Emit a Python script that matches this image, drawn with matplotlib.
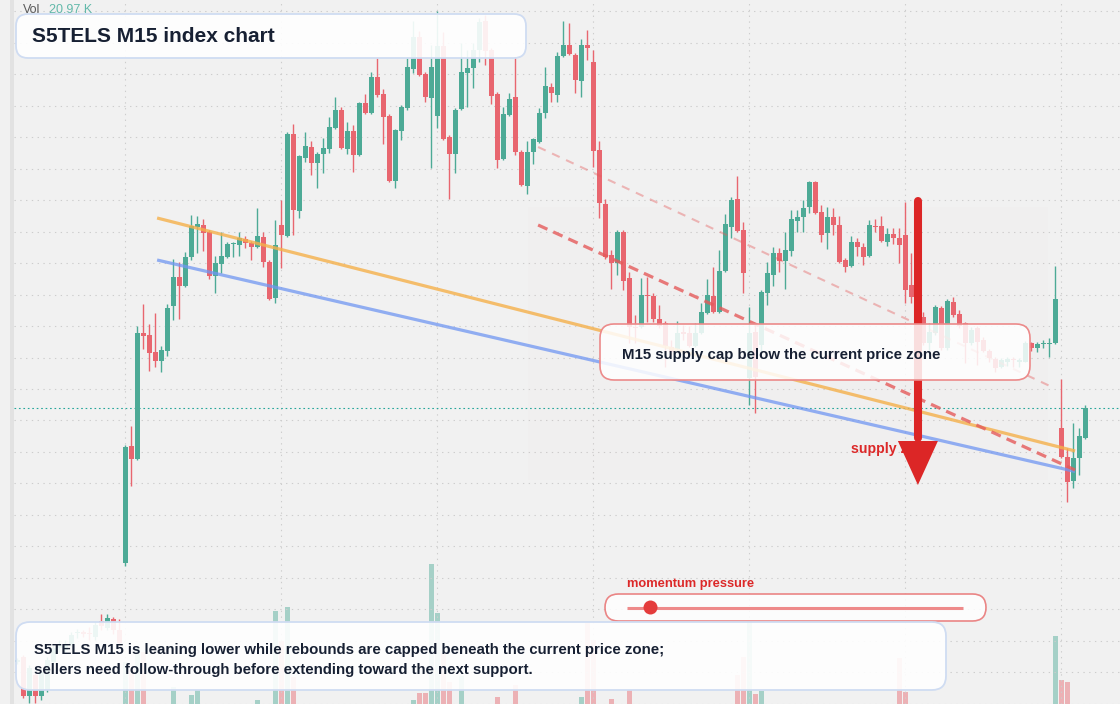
import matplotlib.pyplot as plt
import numpy as np
from matplotlib.patches import FancyBboxPatch, Rectangle, Circle
from matplotlib.lines import Line2D
from matplotlib.transforms import IdentityTransform

W, H = 1120, 704

# OHLC of the M15 candles (index points)
opens = [113.8, 114.3, 110.4, 112.5, 110.4, 111.0, 113.8, 115.2, 115.0, 115.6,
         116.7, 116.8, 116.7, 116.3, 117.9, 117.2, 118.1, 117.0, 123.7, 135.4,
         134.1, 146.7, 146.5, 144.8, 143.9, 144.9, 149.4, 152.3, 151.4, 154.3,
         157.3, 157.5, 156.8, 152.4, 153.6, 154.3, 155.6, 155.5, 156.1, 155.7,
         155.3, 156.3, 153.8, 150.2, 157.5, 156.4, 166.6, 158.9, 164.2, 165.3,
         163.7, 164.6, 165.1, 167.2, 169.0, 165.1, 166.9, 164.5, 169.7, 168.7,
         172.3, 170.6, 168.4, 161.9, 166.9, 169.2, 173.1, 176.3, 172.6, 170.2,
         168.4, 175.4, 166.3, 164.6, 169.1, 172.7, 173.2, 175.0, 177.9, 175.0,
         170.6, 164.1, 168.5, 170.3, 164.8, 161.4, 164.8, 165.8, 168.7, 171.3,
         170.5, 174.4, 175.5, 174.5, 171.9, 175.5, 173.8, 165.0, 159.6, 154.5,
         153.7, 156.8, 152.2, 147.3, 147.3, 150.5, 150.4, 148.1, 147.7, 145.3,
         145.1, 146.8, 146.7, 145.4, 146.7, 148.7, 150.4, 148.8, 152.9, 157.3,
         160.1, 157.0, 142.2, 146.8, 145.5, 150.7, 152.5, 154.7, 153.9, 154.9,
         157.9, 158.3, 159.3, 161.8, 158.8, 156.7, 158.3, 157.5, 154.0, 153.4,
         155.8, 155.3, 154.4, 157.4, 157.4, 155.8, 156.6, 156.2, 156.5, 151.5,
         150.3, 148.3, 145.7, 146.7, 149.2, 145.2, 149.8, 148.6, 147.7, 145.7,
         147.2, 146.0, 144.9, 144.1, 143.3, 143.8, 144.1, 143.8, 143.8, 145.7,
         145.2, 145.6, 145.6, 145.7, 137.2, 134.3, 131.9, 134.2, 136.2]
highs = [114.2, 114.5, 113.5, 112.8, 113.2, 114.3, 115.5, 116.0, 116.0, 116.8,
         117.1, 117.0, 117.3, 117.8, 118.6, 118.6, 118.3, 118.1, 135.5, 137.4,
         147.4, 149.6, 147.6, 148.7, 145.4, 149.6, 154.1, 153.8, 154.8, 158.5,
         158.4, 158.1, 157.0, 154.4, 156.8, 155.8, 155.8, 156.8, 156.4, 155.9,
         159.2, 156.8, 154.0, 158.0, 160.0, 166.8, 167.6, 164.5, 166.8, 165.9,
         164.8, 166.2, 168.3, 170.3, 169.3, 167.8, 167.5, 169.8, 170.6, 172.8,
         174.2, 171.1, 168.6, 167.1, 169.5, 174.2, 177.9, 176.9, 172.8, 175.5,
         178.9, 176.8, 166.5, 169.2, 175.7, 175.0, 175.7, 178.2, 178.5, 175.2,
         170.8, 169.3, 170.7, 174.2, 165.0, 165.9, 166.2, 169.2, 173.3, 171.7,
         174.8, 177.9, 177.7, 174.7, 176.1, 177.0, 175.0, 165.9, 160.1, 155.0,
         157.0, 157.0, 152.8, 148.5, 152.2, 152.3, 150.7, 149.5, 147.9, 146.0,
         147.9, 147.5, 147.4, 147.7, 149.7, 152.1, 153.3, 155.0, 158.6, 160.3,
         162.4, 157.8, 149.3, 147.5, 151.0, 153.8, 155.3, 155.2, 156.8, 159.0,
         159.0, 160.0, 161.9, 161.9, 159.5, 159.3, 159.2, 158.4, 154.2, 156.4,
         156.2, 155.7, 158.0, 158.1, 158.4, 157.2, 157.2, 157.2, 159.8, 154.7,
         150.7, 148.8, 147.7, 149.5, 149.4, 150.1, 150.3, 149.0, 147.8, 147.3,
         147.4, 146.3, 145.1, 144.3, 144.2, 144.3, 144.3, 144.2, 145.9, 145.8,
         145.8, 146.0, 146.2, 153.4, 142.1, 135.2, 137.7, 137.2, 139.5]
lows = [113.6, 110.2, 109.7, 109.7, 110.0, 110.8, 113.6, 114.8, 114.8, 115.4,
        116.2, 116.3, 116.0, 116.0, 117.0, 117.0, 116.6, 115.5, 123.4, 131.4,
        134.0, 145.1, 142.9, 143.3, 142.8, 144.4, 148.0, 148.1, 151.3, 154.0,
        154.7, 154.9, 152.1, 150.7, 152.7, 154.2, 154.3, 154.4, 155.2, 154.0,
        155.2, 153.3, 150.0, 149.7, 153.2, 156.3, 156.5, 158.2, 163.8, 162.5,
        161.2, 162.7, 164.7, 167.1, 165.1, 164.6, 162.8, 164.4, 168.6, 168.6,
        170.3, 165.6, 161.8, 161.2, 166.0, 169.0, 172.7, 172.4, 169.8, 163.2,
        167.2, 166.0, 160.1, 162.7, 169.0, 169.3, 171.2, 173.8, 173.5, 169.6,
        163.2, 164.0, 168.4, 164.5, 161.4, 160.6, 163.6, 165.7, 168.2, 169.8,
        169.8, 174.3, 174.5, 170.7, 170.3, 174.0, 163.3, 158.2, 154.1, 151.1,
        152.5, 151.0, 145.7, 145.7, 147.2, 147.8, 147.8, 147.2, 143.3, 144.5,
        144.9, 146.0, 145.3, 145.3, 146.6, 148.6, 148.7, 148.7, 152.8, 156.2,
        156.8, 150.7, 139.5, 138.7, 144.8, 149.5, 151.4, 152.8, 151.1, 154.4,
        156.8, 156.8, 158.7, 158.6, 155.8, 155.1, 156.5, 153.7, 152.8, 153.3,
        154.4, 153.5, 154.3, 156.8, 155.8, 155.4, 155.6, 153.7, 149.7, 149.7,
        147.8, 145.5, 145.0, 146.5, 145.0, 145.0, 148.3, 147.2, 143.7, 145.5,
        143.5, 144.8, 143.8, 142.8, 143.2, 143.4, 143.3, 143.3, 143.8, 144.9,
        144.8, 145.2, 144.3, 145.6, 134.2, 129.8, 131.2, 132.5, 136.1]
closes = [114.0, 110.4, 113.2, 110.4, 112.8, 114.0, 115.2, 115.5, 115.6, 116.5,
          116.8, 116.6, 116.6, 117.5, 117.4, 118.2, 117.0, 115.7, 135.3, 134.1,
          146.7, 146.4, 144.7, 143.9, 145.0, 149.2, 152.3, 151.4, 154.3, 157.4,
          157.6, 156.7, 152.4, 153.7, 154.4, 155.6, 155.7, 156.2, 155.7, 155.3,
          156.4, 153.8, 150.1, 155.5, 156.5, 166.6, 159.0, 164.4, 165.4, 163.7,
          164.6, 165.2, 167.3, 169.0, 165.2, 166.9, 164.5, 169.7, 168.7, 172.3,
          170.5, 168.3, 161.9, 167.0, 169.3, 173.3, 176.3, 172.5, 170.3, 173.3,
          175.4, 166.1, 164.6, 169.0, 172.8, 173.2, 175.0, 177.8, 174.9, 170.4,
          164.0, 168.6, 170.1, 164.8, 161.5, 164.8, 166.1, 168.7, 171.4, 170.7,
          174.4, 175.5, 174.6, 172.0, 175.5, 175.2, 164.9, 159.7, 154.3, 153.7,
          156.8, 151.9, 147.3, 147.2, 150.5, 150.4, 148.1, 147.4, 145.4, 144.8,
          146.7, 146.6, 145.4, 146.7, 148.8, 150.5, 148.8, 152.9, 157.6, 160.0,
          156.9, 152.7, 146.7, 142.3, 150.8, 152.7, 154.7, 153.9, 155.0, 158.1,
          158.3, 159.2, 161.8, 158.7, 156.5, 158.3, 157.5, 153.8, 153.3, 155.8,
          155.3, 154.3, 157.5, 157.3, 155.9, 156.6, 156.2, 155.5, 151.0, 150.3,
          148.2, 145.7, 146.8, 149.3, 145.2, 149.9, 148.5, 147.4, 145.7, 147.0,
          145.8, 144.9, 144.2, 143.2, 144.0, 144.1, 144.0, 144.0, 145.7, 145.2,
          145.6, 145.7, 145.7, 150.1, 134.3, 131.8, 134.2, 136.4, 139.2]
# volume in K
volumes = [0, 0, 0, 0, 0, 0, 0, 0, 0, 0,
           0, 0, 0, 0, 0, 0, 0, 0, 12.0, 9.7,
           16.0, 14.9, 0, 0, 0, 0, 4.9, 0, 0, 2.6,
           4.0, 0, 0, 0, 0, 0, 0, 0, 0, 0,
           1.1, 0, 0, 26.6, 18.0, 27.7, 7.7, 0, 0, 0,
           0, 0, 0, 0, 0, 0, 0, 0, 0, 0,
           0, 0, 0, 0, 0, 0, 1.1, 3.1, 3.1, 40.0,
           26.0, 14.6, 6.3, 0, 8.0, 0, 0, 0, 0, 0,
           2.0, 0, 0, 5.4, 0, 0, 0, 0, 0, 0,
           0, 0, 0, 0, 2.0, 23.2, 18.3, 0, 0, 1.4,
           0, 0, 4.0, 0, 0, 0, 0, 0, 0, 0,
           0, 0, 0, 0, 0, 0, 0, 0, 0, 0,
           8.3, 13.4, 23.7, 2.9, 3.7, 0, 0, 0, 0, 0,
           0, 0, 0, 0, 0, 0, 0, 0, 0, 0,
           0, 0, 0, 0, 0, 0, 0, 13.1, 3.4, 0,
           0, 0, 0, 0, 0, 0, 0, 0, 0, 0,
           0, 0, 0, 0, 0, 0, 0, 0, 0, 0,
           0, 0, 0, 19.4, 6.9, 6.3, 0, 0, 0]

last_price = 139.2
last_vol = "20.97 K"

# drawn levels (candle index, price)
trend_x = [23.3, 176.3]
upper_trend = [158.2, 134.9]
lower_trend = [154.0, 132.85]
cap_x = [86.8, 176.3]
cap_line = [157.5, 133.0]
cap2_x = [86.8, 172.45]
cap2_line = [165.3, 141.3]
zone_x = [85.1, 171.8]
zone_y = [132.0, 159.3]
arrow_i = 150.1
arrow_from, arrow_to = 159.9, 131.5
momentum = 0.07

GREEN = '#4daa96'
RED = '#e8666f'
TEXT = '#172033'

o = np.array(opens); c = np.array(closes)
hi = np.array(highs); lo = np.array(lows)
idx = np.arange(len(o))
up = c >= o
cols = np.where(up, GREEN, RED)


def fx(px):
    return px / W


def fy(py):
    return 1 - py / H


def rbox(x0, y0, x1, y1, r, fc, ec, lw):
    p = FancyBboxPatch((x0, H - y1), x1 - x0, y1 - y0,
                       boxstyle=f"round,pad=0,rounding_size={r}",
                       transform=IdentityTransform(), fc=fc, ec=ec, lw=lw, zorder=1)
    fig.add_artist(p)


plt.rcParams['font.family'] = ['Liberation Sans', 'DejaVu Sans']

fig = plt.figure(figsize=(W / 100, H / 100), dpi=100)
fig.patch.set_facecolor('#f1f1f1')
axv = fig.add_axes([0, 0, 1, 1])
ax = fig.add_axes([0, 0, 1, 1])
for a in (axv, ax):
    a.set_axis_off()
    a.set_xlim(-17.3 / 6, (W - 17.3) / 6)
axv.set_ylim(0, H / 3.5)
ax.set_ylim(180 - H / 10, 180)

# volume
axv.bar(idx, volumes, width=0.78, color=cols, alpha=0.46, lw=0)

# grid
for p in np.arange(178.87, 109.6, -3.1476):
    ax.axhline(p, xmin=fx(14), color='#cdcdcd', lw=0.8, ls=(0, (1.2, 4)), zorder=0.5)
for i in range(18, len(o), 26):
    ax.axvline(i, color='#cdcdcd', lw=0.8, ls=(0, (1.2, 4)), zorder=0.5)

ax.add_patch(Rectangle((zone_x[0], zone_y[0]), zone_x[1] - zone_x[0], zone_y[1] - zone_y[0],
                       fc='#e25555', alpha=0.012, lw=0, zorder=0.6))

# candles
ax.vlines(idx, lo, hi, colors=cols, lw=1.0, zorder=2)
ax.bar(idx, np.maximum(np.abs(c - o), 0.12), bottom=np.minimum(o, c), width=0.8,
       color=cols, lw=0, zorder=3)

ax.axhline(last_price, xmin=fx(14), color='#26a69a', lw=0.8, ls=(0, (1.5, 2.5)), zorder=1)

# trend lines
ax.plot(trend_x, upper_trend, color='#f5b04a', lw=2.3, alpha=0.8, zorder=4, solid_capstyle='butt')
ax.plot(trend_x, lower_trend, color='#7096f2', lw=2.3, alpha=0.75, zorder=4, solid_capstyle='butt')
ax.plot(cap_x, cap_line, color='#e55a5a', lw=2.3, alpha=0.8, dashes=(3.2, 2.0), zorder=4)
ax.plot(cap2_x, cap2_line, color='#e55a5a', lw=1.5, alpha=0.4, dashes=(4, 3.4), zorder=4)

# supply arrow
ax.text(fx(851), fy(449), 'supply zone', transform=ax.transAxes, color='#dc2828',
        fontsize=10.2, fontweight='bold', va='center', ha='left', zorder=5)
head_base = arrow_to + 4.4
ax.plot([arrow_i, arrow_i], [arrow_from, head_base + 0.3], color='#dc2626', lw=5.8,
        solid_capstyle='round', zorder=6)
ax.fill([arrow_i - 20 / 6, arrow_i + 20 / 6, arrow_i], [head_base, head_base, arrow_to],
        color='#dc2626', lw=0, zorder=6)

# left strip
fig.add_artist(Rectangle((10, 0), 4, H, transform=IdentityTransform(), fc='#e2e2e2', lw=0, zorder=1))

# boxes
rbox(16, 14, 526, 58, 12, (1, 1, 1, 0.9), '#cfdcf2', 1.3)
rbox(600, 324, 1030, 380, 14, (1, 1, 1, 0.85), '#ec8a8a', 1.2)
rbox(605, 594, 986, 621, 13.5, (1, 1, 1, 0.85), '#ea8585', 1.2)
rbox(16, 622, 946, 690, 14, (1, 1, 1, 0.9), '#cfdcf2', 1.3)

# momentum slider
sx0, sx1, sy = 627, 963, H - 607.5
fig.add_artist(Line2D([sx0, sx1], [sy, sy], transform=IdentityTransform(), color='#ee8a8a',
                      lw=2.2, zorder=2, solid_capstyle='butt'))
fig.add_artist(Circle((sx0 + momentum * (sx1 - sx0), sy), 7, transform=IdentityTransform(),
                      fc='#e43c3c', ec='none', zorder=2.5))

# texts
fig.text(fx(23), fy(10), 'Vol', color='#5a5a5a', fontsize=9, va='center')
fig.text(fx(49), fy(10), last_vol, color='#62b9aa', fontsize=9, va='center')
fig.text(fx(32), fy(37), 'S5TELS M15 index chart', color=TEXT, fontsize=15,
         fontweight='bold', va='center')
fig.text(fx(622), fy(355.5), 'M15 supply cap below the current price zone', color=TEXT,
         fontsize=10.8, fontweight='bold', va='center')
fig.text(fx(627), fy(584.5), 'momentum pressure', color='#dc2828', fontsize=9.3,
         fontweight='bold', va='center')
fig.text(fx(34), fy(650), 'S5TELS M15 is leaning lower while rebounds are capped beneath the current price zone;',
         color=TEXT, fontsize=10.8, fontweight='bold', va='center')
fig.text(fx(34), fy(670), 'sellers need follow-through before extending toward the next support.',
         color=TEXT, fontsize=10.8, fontweight='bold', va='center')

fig.savefig('out.png', dpi=100, facecolor=fig.get_facecolor())
